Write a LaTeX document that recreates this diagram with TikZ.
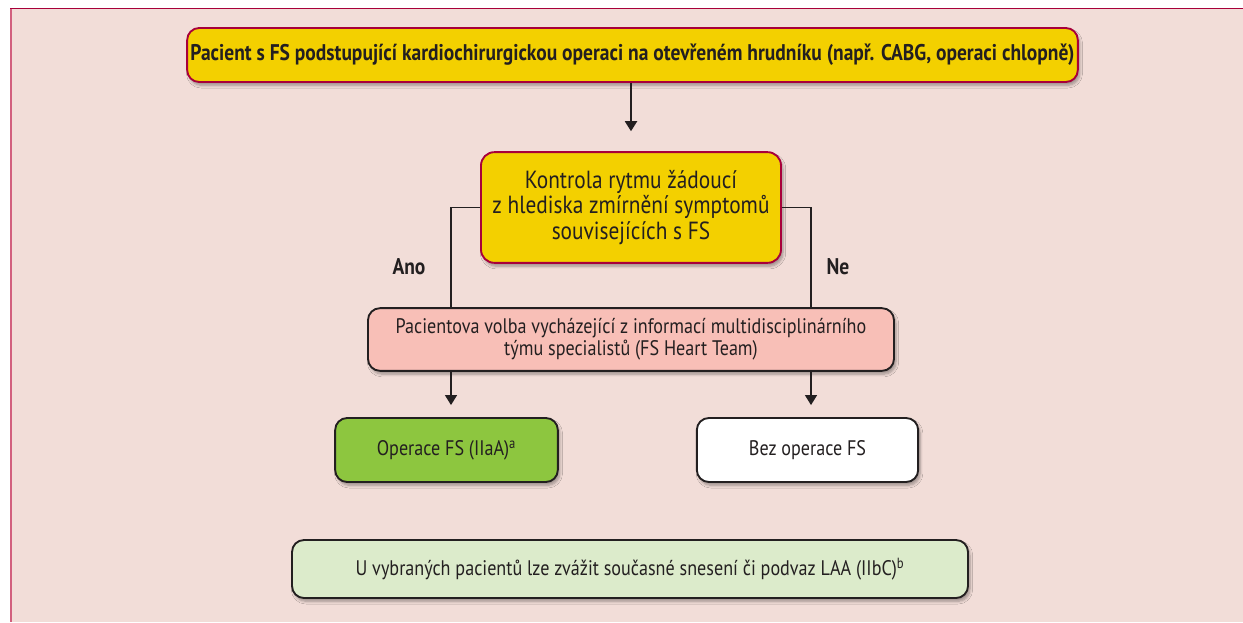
\documentclass[tikz,border=0pt]{standalone}
\usepackage{fontspec}
\setmainfont{PT Sans}[FakeStretch=0.86]
\usetikzlibrary{arrows.meta,shadows.blur,calc}

\definecolor{panelbg}{HTML}{F2DDD8}
\definecolor{crimson}{HTML}{A8003A}
\definecolor{panelleft}{HTML}{D2607E}
\definecolor{boxyellow}{HTML}{F3D000}
\definecolor{boxpink}{HTML}{F8BFB7}
\definecolor{boxgreen}{HTML}{8DC63F}
\definecolor{boxpale}{HTML}{DCEBCB}
\definecolor{ink}{HTML}{231F20}

\tikzset{
  flowbox/.style={rectangle, rounded corners=9pt, align=center, text=ink,
    inner sep=0pt, font=\fontsize{15.8}{16.5}\selectfont,
    blur shadow={shadow xshift=1.5pt, shadow yshift=-2.5pt, shadow blur steps=6, shadow opacity=35}},
  redbox/.style={flowbox, draw=crimson, line width=1.4pt, fill=boxyellow},
  darkbox/.style={flowbox, draw=ink, line width=1.4pt},
  thinline/.style={draw=ink, line width=0.8pt},
  flowarrow/.style={draw=ink, -{Triangle[width=9pt,length=7.5pt]}},
  branchlabel/.style={font=\bfseries\fontsize{17}{18}\selectfont, text=ink},
}

\begin{document}
\begin{tikzpicture}[x=0.75pt, y=-0.75pt]
  \useasboundingbox (0,0) rectangle (1243,622);

  % panel
  \fill[panelbg] (10,8) rectangle (1243,622);
  \draw[panelleft, line width=1.5pt] (11,8) -- (11,622);
  \draw[crimson, line width=1.2pt] (10,8.5) -- (1243,8.5);

  % boxes
  \node[redbox, minimum width=668pt, minimum height=40.5pt, font=\bfseries\fontsize{17}{18}\selectfont]
    (patient) at (632.5,55)
    {Pacient s FS podstupující kardiochirurgickou operaci na otevřeném hrudníku (např. CABG, operaci chlopně)};

  \node[redbox, minimum width=225pt, minimum height=83pt, rounded corners=10pt,
        font=\fontsize{18.6}{18.8}\selectfont]
    (rhythm) at (631,207.5)
    {Kontrola rytmu žádoucí\\z hlediska zmírnění symptomů\\souvisejících s FS};

  \node[darkbox, fill=boxpink, minimum width=394.5pt, minimum height=47pt]
    (team) at (631,339.5)
    {Pacientova volba vycházející z informací multidisciplinárního\\týmu specialistů (FS Heart Team)};

  \node[darkbox, fill=boxgreen, minimum width=167pt, minimum height=48pt]
    (surgery) at (446.5,450)
    {Operace FS (IIaA)\textsuperscript{a}};

  \node[darkbox, fill=white, minimum width=166pt, minimum height=48pt]
    (nosurgery) at (807.5,450)
    {Bez operace FS};

  \node[darkbox, fill=boxpale, minimum width=507pt, minimum height=43.5pt]
    (laa) at (630,569)
    {U vybraných pacientů lze zvážit současné snesení či podvaz LAA (IIbC)\textsuperscript{b}};

  % branch columns
  \coordinate (yescol) at (451,0);
  \coordinate (nocol) at (811,0);

  % branch labels
  \node[branchlabel] (ano) at (409,267) {Ano};
  \node[branchlabel] (ne) at (838,267) {Ne};

  % connectors
  \draw[flowarrow, line width=1.4pt, shorten >=15pt] (patient.south -| rhythm.north) -- (rhythm.north);
  \draw[thinline] (rhythm.west) -| (team.north -| yescol);
  \draw[thinline] (rhythm.east) -| (team.north -| nocol);
  \draw[flowarrow, line width=1pt, shorten >=9pt] (team.south -| yescol) -- (surgery.north -| yescol);
  \draw[flowarrow, line width=1pt, shorten >=9pt] (team.south -| nocol) -- (nosurgery.north -| nocol);
\end{tikzpicture}
\end{document}
